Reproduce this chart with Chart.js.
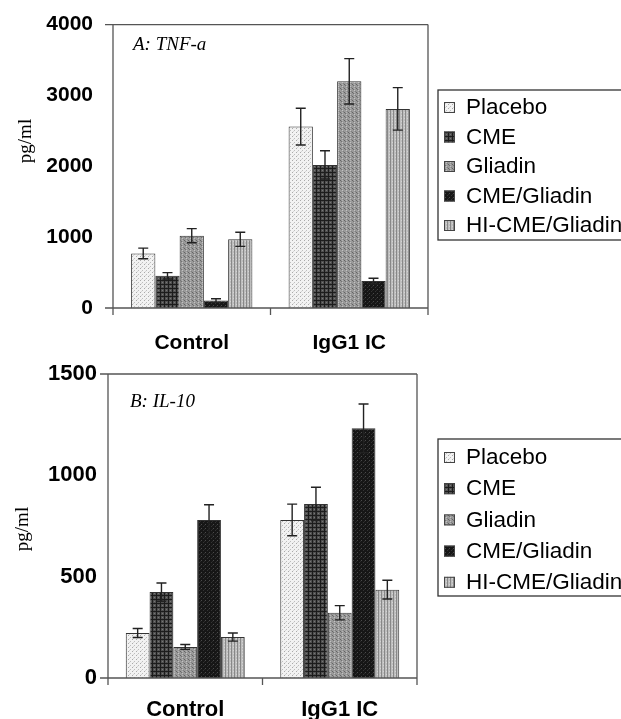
<!DOCTYPE html>
<html>
<head>
<meta charset="utf-8">
<script src="https://cdn.jsdelivr.net/npm/chart.js@4"></script>
<style>
html,body{margin:0;padding:0;background:#fff;}
#wrap{position:relative;width:621px;height:719px;overflow:hidden;}
canvas{position:absolute;left:0;}
#cA{top:0;}
#cB{top:355px;}
</style>
</head>
<body>
<div id="wrap">
<canvas id="cA" width="621" height="355"></canvas>
<canvas id="cB" width="621" height="364"></canvas>
</div>
<script>
// ---- data ----
const categories = ['Control', 'IgG1 IC'];
const seriesNames = ['Placebo', 'CME', 'Gliadin', 'CME/Gliadin', 'HI-CME/Gliadin'];
const yTitle = 'pg/ml';
const panelATitle = 'A: TNF-a';
const panelBTitle = 'B: IL-10';

const tnfControl    = [770, 455, 1020, 105, 970];
const tnfControlErr = [75, 45, 100, 25, 100];
const tnfIgG1       = [2560, 2020, 3200, 380, 2810];
const tnfIgG1Err    = [260, 200, 320, 40, 300];

const il10Control    = [222, 424, 153, 780, 202];
const il10ControlErr = [22, 45, 12, 75, 20];
const il10IgG1       = [780, 859, 322, 1232, 436];
const il10IgG1Err    = [78, 82, 35, 120, 46];

const tnfTicks = [0, 1000, 2000, 3000, 4000];
const il10Ticks = [0, 500, 1000, 1500];

// ---- patterns ----
function makePattern(size, base, marks) {
  const c = document.createElement('canvas');
  c.width = size; c.height = size;
  const g = c.getContext('2d');
  g.fillStyle = base; g.fillRect(0, 0, size, size);
  marks.forEach(m => { g.fillStyle = m[4]; g.fillRect(m[0], m[1], m[2], m[3]); });
  return g.createPattern(c, 'repeat');
}
const patterns = [
  makePattern(4, '#f2f2f2', [[0,0,1,1,'#aaaaaa'],[2,2,1,1,'#bebebe'],[1,3,1,1,'#d6d6d6']]),
  makePattern(4, '#505050', [[0,0,4,1,'#1c1c1c'],[0,0,1,4,'#1c1c1c'],[2,2,1,1,'#777777']]),
  makePattern(4, '#9a9a9a', [[0,0,1,1,'#646464'],[1,1,1,1,'#727272'],[2,2,1,1,'#c2c2c2'],[3,3,1,1,'#808080'],[2,0,1,1,'#b4b4b4']]),
  makePattern(4, '#161616', [[1,1,1,1,'#4a4a4a'],[3,3,1,1,'#343434'],[0,2,1,1,'#2a2a2a']]),
  makePattern(3, '#bebebe', [[0,0,1,3,'#888888'],[2,1,1,1,'#d4d4d4']])
];

const SANS = "'Liberation Sans', Arial, sans-serif";
const SERIF = "'Liberation Serif', 'Times New Roman', serif";
Chart.defaults.font.family = SANS;
Chart.defaults.color = '#000';

// ---- plugins ----
const frame = {
  id: 'frame',
  afterDraw(chart) {
    const ctx = chart.ctx, a = chart.chartArea, xs = chart.scales.x;
    ctx.save();
    ctx.strokeStyle = '#555'; ctx.lineWidth = 1.3;
    ctx.beginPath();
    ctx.moveTo(a.left - 8, a.top); ctx.lineTo(a.right, a.top);
    ctx.moveTo(a.left - 8, a.bottom); ctx.lineTo(a.right, a.bottom);
    ctx.moveTo(a.left, a.top); ctx.lineTo(a.left, a.bottom + 7);
    ctx.moveTo(a.right, a.top); ctx.lineTo(a.right, a.bottom + 7);
    for (let i = 1; i < categories.length; i++) {
      const x = (xs.getPixelForTick(i - 1) + xs.getPixelForTick(i)) / 2;
      ctx.moveTo(x, a.bottom); ctx.lineTo(x, a.bottom + 7);
    }
    ctx.stroke();
    ctx.restore();
  }
};

const errorBars = {
  id: 'errorBars',
  afterDatasetsDraw(chart) {
    const ctx = chart.ctx, y = chart.scales.y;
    ctx.save();
    ctx.strokeStyle = '#222'; ctx.lineWidth = 1.4;
    chart.data.datasets.forEach((ds, i) => {
      chart.getDatasetMeta(i).data.forEach((bar, j) => {
        const v = ds.data[j], e = ds.errors[j];
        const yt = y.getPixelForValue(v + e), yb = y.getPixelForValue(Math.max(0, v - e));
        ctx.beginPath();
        ctx.moveTo(bar.x, yt); ctx.lineTo(bar.x, yb);
        ctx.moveTo(bar.x - 5, yt); ctx.lineTo(bar.x + 5, yt);
        ctx.moveTo(bar.x - 5, yb); ctx.lineTo(bar.x + 5, yb);
        ctx.stroke();
      });
    });
    ctx.restore();
  }
};

const annotations = {
  id: 'annotations',
  afterDraw(chart, args, o) {
    const ctx = chart.ctx;
    ctx.save();
    ctx.font = 'italic 19px ' + SERIF;
    ctx.fillStyle = '#000';
    ctx.textBaseline = 'alphabetic'; ctx.textAlign = 'left';
    ctx.fillText(o.panel, o.panelX, o.panelY);
    ctx.font = '19px ' + SERIF;
    ctx.translate(o.titleX, o.titleY);
    ctx.rotate(-Math.PI / 2);
    ctx.textAlign = 'center'; ctx.textBaseline = 'middle';
    ctx.fillText(yTitle, 0, 0);
    ctx.restore();
  }
};

const boxLegend = {
  id: 'boxLegend',
  afterDraw(chart, args, o) {
    const ctx = chart.ctx;
    ctx.save();
    ctx.strokeStyle = '#333'; ctx.lineWidth = 1.3;
    ctx.strokeRect(o.left, o.top, 200, o.bottom - o.top);
    ctx.font = o.font + 'px ' + SANS;
    ctx.textBaseline = 'middle'; ctx.textAlign = 'left';
    chart.data.datasets.forEach((ds, i) => {
      const cy = o.first + i * o.step;
      ctx.fillStyle = ds.backgroundColor;
      ctx.fillRect(o.left + 6, cy - 5, 11, 11);
      ctx.strokeStyle = '#444'; ctx.lineWidth = 1;
      ctx.strokeRect(o.left + 6.5, cy - 4.5, 10, 10);
      ctx.fillStyle = '#000';
      ctx.fillText(ds.label, o.left + 28, cy + 1);
    });
    ctx.restore();
  }
};

function buildDatasets(ctrl, ctrlErr, igg, iggErr) {
  return seriesNames.map((name, i) => ({
    label: name,
    data: [ctrl[i], igg[i]],
    errors: [ctrlErr[i], iggErr[i]],
    backgroundColor: patterns[i],
    borderColor: '#333',
    borderWidth: 1,
    barPercentage: 1.0,
    categoryPercentage: 0.77
  }));
}

function makeChart(id, datasets, ticks, geo) {
  const maxV = ticks[ticks.length - 1];
  const step = ticks[1] - ticks[0];
  return new Chart(document.getElementById(id), {
    type: 'bar',
    data: { labels: categories, datasets },
    options: {
      responsive: false,
      animation: false,
      devicePixelRatio: 1,
      layout: { padding: { left: 0, right: geo.padRight, top: geo.padTop, bottom: 0 } },
      plugins: {
        legend: { display: false },
        tooltip: { enabled: false },
        annotations: geo.ann,
        boxLegend: geo.legend
      },
      scales: {
        x: {
          grid: { display: false },
          border: { display: false },
          ticks: { font: { size: geo.xFont, weight: 'bold' }, padding: geo.xPad, maxRotation: 0, autoSkip: false, color: '#000' },
          afterFit: s => { s.height = geo.xHeight; }
        },
        y: {
          min: 0, max: maxV,
          grid: { display: false },
          border: { display: false },
          ticks: {
            stepSize: step, font: { size: geo.yFont, weight: 'bold' }, padding: geo.yPad, color: '#000',
            callback: v => String(v)
          },
          afterFit: s => { s.width = geo.yWidth; }
        }
      }
    },
    plugins: [frame, errorBars, annotations, boxLegend]
  });
}

makeChart('cA', buildDatasets(tnfControl, tnfControlErr, tnfIgG1, tnfIgG1Err), tnfTicks, {
  padRight: 193, padTop: 22, xHeight: 47, yWidth: 113,
  xFont: 21, xPad: 15, yFont: 21, yPad: 12,
  ann: { panel: panelATitle, panelX: 133, panelY: 50, titleX: 26, titleY: 141 },
  legend: { left: 438, top: 90, bottom: 240, first: 107, step: 29.5, font: 22.5 }
});

makeChart('cB', buildDatasets(il10Control, il10ControlErr, il10IgG1, il10IgG1Err), il10Ticks, {
  padRight: 204, padTop: 19, xHeight: 41, yWidth: 108,
  xFont: 22, xPad: 11, yFont: 22, yPad: 3,
  ann: { panel: panelBTitle, panelX: 130, panelY: 52, titleX: 23, titleY: 174 },
  legend: { left: 438, top: 84, bottom: 241, first: 102, step: 31.2, font: 22.5 }
});
</script>
</body>
</html>
